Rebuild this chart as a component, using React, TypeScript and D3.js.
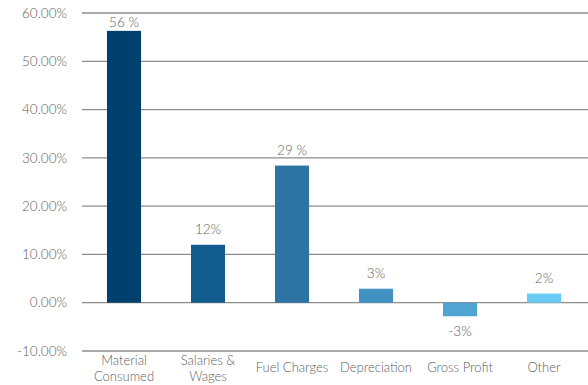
import React from "react";
import * as d3 from "d3";

const categories = [["Material", "Consumed"], ["Salaries &", "Wages"], ["Fuel Charges"], ["Depreciation"], ["Gross Profit"], ["Other"]];
const values = [56.3, 12.0, 28.4, 2.9, -2.8, 1.9];
const valueLabels = ["56 %", "12%", "29 %", "3%", "-3%", "2%"];
const colors = ["#00406f", "#125c8f", "#2d74a5", "#4192c3", "#50a4d2", "#68cbf3"];
const ticks = [-10, 0, 10, 20, 30, 40, 50, 60];

export default function App() {
  const W = 588, H = 385;
  const left = 82, right = 586;
  const y = d3.scaleLinear().domain([-10, 60]).range([351, 13]);
  const x = d3.scaleBand<number>().domain(d3.range(categories.length)).range([left, right]).paddingInner(0.595).paddingOuter(0.2975);
  const font = "Lato, sans-serif";
  const txt = "#606060";
  return (
    <svg width={W} height={H} style={{ position: "absolute", left: 0, top: 0 }} fontFamily={font}>
      {ticks.map((t) => (
        <g key={t}>
          <line x1={left} x2={W} y1={y(t)} y2={y(t)} stroke="#8c8c8c" strokeWidth={1.3} />
          <text x={67} y={y(t)} dy="0.35em" textAnchor="end" fontSize={13.5} fill={txt} fontWeight={300}>
            {t.toFixed(2) + "%"}
          </text>
        </g>
      ))}
      {values.map((v, i) => {
        const x0 = x(i)!;
        const top = y(Math.max(v, 0));
        const h = Math.abs(y(v) - y(0));
        const cx = x0 + x.bandwidth() / 2;
        const ly = v >= 0 ? Math.max(y(v) - 11, y(60) + 14) : y(v) + 19.5;
        return (
          <g key={i}>
            <rect x={x0} y={top} width={x.bandwidth()} height={h} fill={colors[i]} />
            <text x={cx} y={ly} textAnchor="middle" fontSize={13.5} fill={txt} fontWeight={300}>
              {valueLabels[i]}
            </text>
            {categories[i].map((line, j) => (
              <text key={j} x={cx} y={categories[i].length === 1 ? 372 : 364.5 + j * 16} textAnchor="middle" fontSize={13} fill={txt} fontWeight={300}>
                {line}
              </text>
            ))}
          </g>
        );
      })}
    </svg>
  );
}
